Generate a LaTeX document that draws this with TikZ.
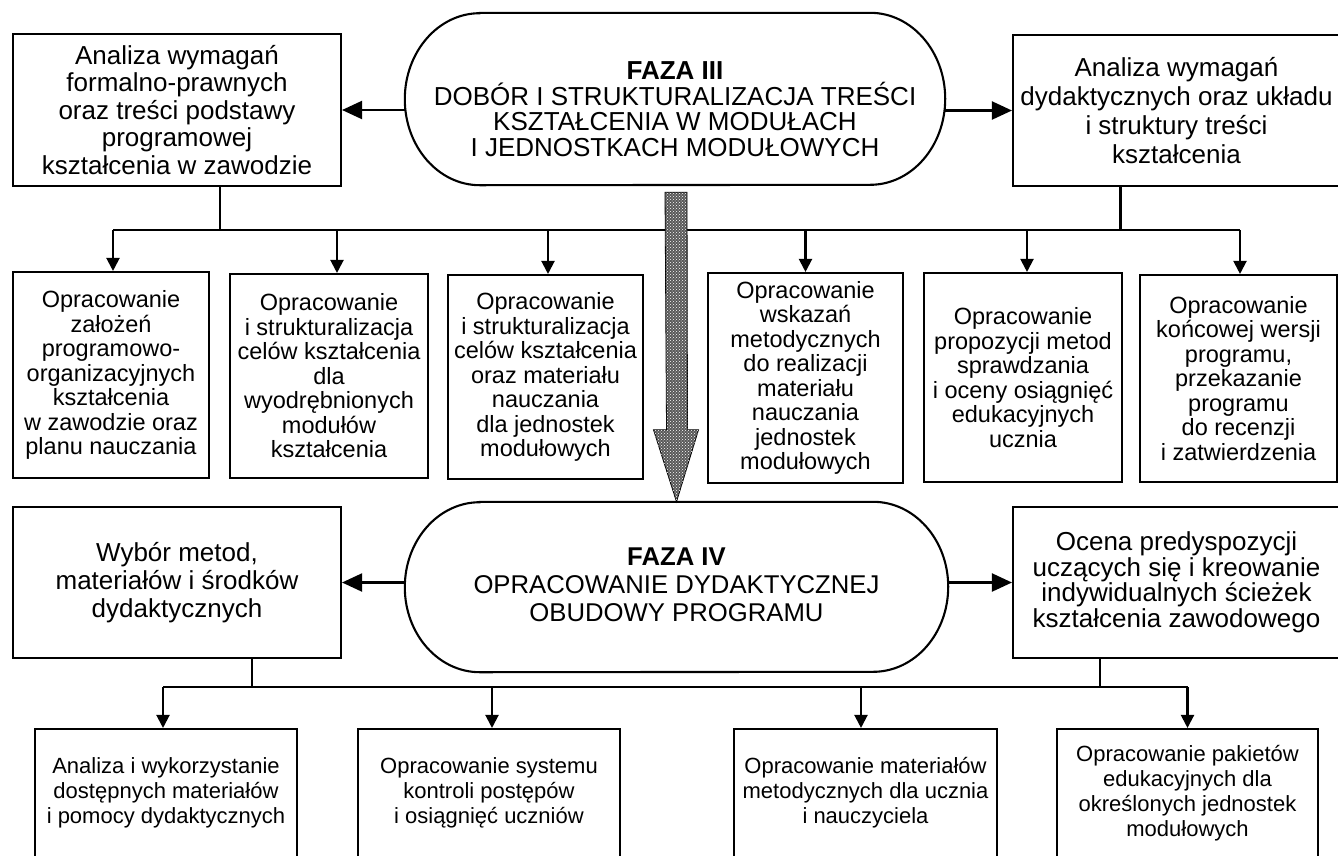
\documentclass[tikz,border=0pt]{standalone}
\usepackage{fontspec}
\setmainfont{Liberation Sans}
\usetikzlibrary{arrows.meta,calc,patterns}
\begin{document}
\begin{tikzpicture}[x=1pt,y=-1pt,
  box/.style={draw, line width=2.1pt, align=center, inner sep=0pt},
  topbox/.style={box, font=\fontsize{26}{27.5}\selectfont},
  midbox/.style={box, font=\fontsize{23.5}{24.5}\selectfont},
  lowbox/.style={box, font=\fontsize{22}{25}\selectfont},
  phase/.style={align=center, inner sep=0pt},
  stadium/.style={line width=2.1pt},
  link/.style={line width=2.1pt},
  bigtip/.style={line width=2.1pt, -{Triangle[length=20pt,width=18pt]}},
  downtip/.style={line width=2.1pt, -{Triangle[length=13pt,width=13pt]}},
  grayarrow/.style={fill=black!65, draw=black, line width=0.8pt},
]
\useasboundingbox (0,0) rectangle (1338,855);
\fill[white] (0,0) rectangle (1338,855);
\clip (0,0) rectangle (1338,855);

% ---------- Phase III ----------
\node[minimum width=540pt, minimum height=172pt, inner sep=0pt] (e3) at (675,99) {};
\draw[stadium] ([xshift=75pt]e3.north west) -- ([xshift=-75pt]e3.north east)
  arc[start angle=90, end angle=-90, x radius=75pt, y radius=86pt]
  -- ([xshift=75pt]e3.south west)
  arc[start angle=270, end angle=90, x radius=75pt, y radius=86pt] -- cycle;
\node[phase, font=\fontsize{26}{25.5}\selectfont] (e3t) at ($(e3.center)+(0,10)$)
  {\textbf{FAZA III}\\DOBÓR I STRUKTURALIZACJA TREŚCI\\KSZTAŁCENIA W MODUŁACH\\I JEDNOSTKACH MODUŁOWYCH};

\node[topbox, minimum width=328pt, minimum height=152pt] (tl) at (177,110)
  {Analiza wymagań\\formalno-prawnych\\oraz treści podstawy\\programowej\\kształcenia w zawodzie};
\node[topbox, font=\fontsize{26}{29}\selectfont, minimum width=327pt, minimum height=151pt] (tr) at (1176.5,110.5)
  {Analiza wymagań\\dydaktycznych oraz układu\\i struktury treści\\kształcenia};

\draw[bigtip] (e3.west |- tl.east) -- (tl.east);
\draw[bigtip] (e3.east |- tr.west) -- (tr.west);

% ---------- middle row ----------
\node[midbox, minimum width=196pt, minimum height=206pt] (m1) at (111,375)
  {Opracowanie\\założeń\\programowo-\\organizacyjnych\\kształcenia\\w zawodzie oraz\\planu nauczania};
\node[midbox, minimum width=198pt, minimum height=204pt] (m2) at (329,376)
  {Opracowanie\\i strukturalizacja\\celów kształcenia\\dla\\wyodrębnionych\\modułów\\kształcenia};
\node[midbox, minimum width=195pt, minimum height=204pt] (m3) at (545.5,377)
  {Opracowanie\\i strukturalizacja\\celów kształcenia\\oraz materiału\\nauczania\\dla jednostek\\modułowych};
\node[midbox, minimum width=195pt, minimum height=210pt] (m4) at (805.5,378)
  {Opracowanie\\wskazań\\metodycznych\\do realizacji\\materiału\\nauczania\\jednostek\\modułowych};
\node[midbox, minimum width=198pt, minimum height=209pt] (m5) at (1023,377.5)
  {Opracowanie\\propozycji metod\\sprawdzania\\i oceny osiągnięć\\edukacyjnych\\ucznia};
\node[midbox, minimum width=197pt, minimum height=207pt] (m6) at (1238.5,378.5)
  {Opracowanie\\końcowej wersji\\programu,\\przekazanie\\programu\\do recenzji\\i zatwierdzenia};

\coordinate (busT) at (0,230);
\draw[link] ([xshift=43pt]tl.south) -- ([xshift=43pt]tl.south |- busT);
\draw[link] ([xshift=-56pt]tr.south) -- ([xshift=-56pt]tr.south |- busT);
\draw[link] ([xshift=2pt]m1.north |- busT) -- ([xshift=1.5pt]m6.north |- busT);
\draw[downtip] ([xshift=2pt]m1.north |- busT) -- ([xshift=2pt]m1.north);
\draw[downtip] ([xshift=8pt]m2.north |- busT) -- ([xshift=8pt]m2.north);
\draw[downtip] ([xshift=2.5pt]m3.north |- busT) -- ([xshift=2.5pt]m3.north);
\draw[downtip] (m4.north |- busT) -- (m4.north);
\draw[downtip] ([xshift=4pt]m5.north |- busT) -- ([xshift=4pt]m5.north);
\draw[downtip] ([xshift=1.5pt]m6.north |- busT) -- ([xshift=1.5pt]m6.north);

% ---------- Phase IV ----------
\node[minimum width=543pt, minimum height=170pt, inner sep=0pt] (e4) at (676.5,587) {};
\draw[stadium] ([xshift=75pt]e4.north west) -- ([xshift=-75pt]e4.north east)
  arc[start angle=90, end angle=-90, x radius=75pt, y radius=85pt]
  -- ([xshift=75pt]e4.south west)
  arc[start angle=270, end angle=90, x radius=75pt, y radius=85pt] -- cycle;
\node[phase, font=\fontsize{25.7}{28}\selectfont] (e4t) at ($(e4.center)+(0,-2)$)
  {\textbf{FAZA IV}\\OPRACOWANIE DYDAKTYCZNEJ\\OBUDOWY PROGRAMU};

% big gray arrow from phase III to phase IV
\filldraw[grayarrow] ($(e3.south)+(-10,7)$) -- ($(e3.south)+(12,7)$)
  -- ($(e4.north)+(11,-72)$) -- ($(e4.north)+(22,-72)$) -- (e4.north)
  -- ($(e4.north)+(-23,-72)$) -- ($(e4.north)+(-10,-72)$) -- cycle;
\fill[pattern=crosshatch dots, pattern color=white] ($(e3.south)+(-10,7)$) -- ($(e3.south)+(12,7)$)
  -- ($(e4.north)+(11,-72)$) -- ($(e4.north)+(22,-72)$) -- (e4.north)
  -- ($(e4.north)+(-23,-72)$) -- ($(e4.north)+(-10,-72)$) -- cycle;

\node[topbox, font=\fontsize{26}{28}\selectfont, minimum width=328pt, minimum height=151pt] (wy) at (177,582.5)
  {Wybór metod,\\materiałów i środków\\dydaktycznych};
\node[topbox, font=\fontsize{26}{25.5}\selectfont, minimum width=327pt, minimum height=151pt] (oc) at (1176.5,582.5)
  {Ocena predyspozycji\\uczących się i kreowanie\\indywidualnych ścieżek\\kształcenia zawodowego};

\draw[bigtip] (e4.west |- wy.east) -- (wy.east);
\draw[bigtip] (e4.east |- oc.west) -- (oc.west);

% ---------- bottom row ----------
\node[lowbox, minimum width=262pt, minimum height=128pt] (b1) at (166,793)
  {Analiza i wykorzystanie\\dostępnych materiałów\\i pomocy dydaktycznych};
\node[lowbox, minimum width=262pt, minimum height=128pt] (b2) at (489,793)
  {Opracowanie systemu\\kontroli postępów\\i osiągnięć uczniów};
\node[lowbox, minimum width=263pt, minimum height=128pt] (b3) at (865.5,793)
  {Opracowanie materiałów\\metodycznych dla ucznia\\i nauczyciela};
\node[lowbox, minimum width=261pt, minimum height=128pt] (b4) at (1187.5,793)
  {Opracowanie pakietów\\edukacyjnych dla\\określonych jednostek\\modułowych};

\coordinate (busB) at (0,687);
\draw[link] ([xshift=75pt]wy.south) -- ([xshift=75pt]wy.south |- busB);
\draw[link] ([xshift=-76.5pt]oc.south) -- ([xshift=-76.5pt]oc.south |- busB);
\draw[link] ([xshift=-3pt]b1.north |- busB) -- (b4.north |- busB);
\draw[downtip] ([xshift=-3pt]b1.north |- busB) -- ([xshift=-3pt]b1.north);
\draw[downtip] ([xshift=3pt]b2.north |- busB) -- ([xshift=3pt]b2.north);
\draw[downtip] ([xshift=-4.5pt]b3.north |- busB) -- ([xshift=-4.5pt]b3.north);
\draw[downtip] (b4.north |- busB) -- (b4.north);
\end{tikzpicture}
\end{document}
